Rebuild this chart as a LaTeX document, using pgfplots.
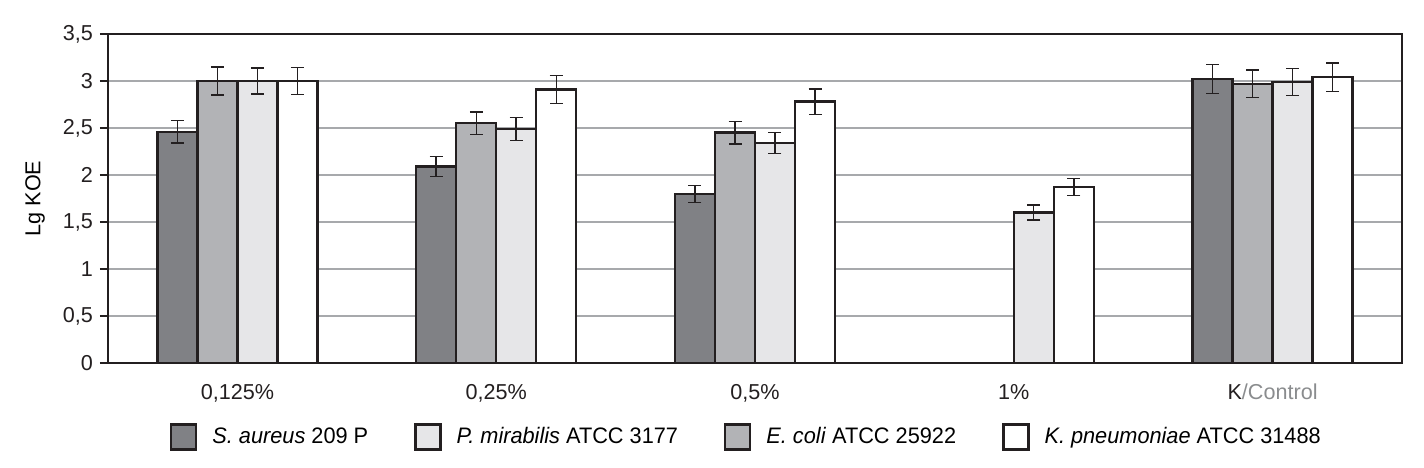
\documentclass[border=0pt]{standalone}
\usepackage{pgfplots}
\pgfplotsset{compat=1.18}
\usepackage{fontspec}
\setmainfont{Liberation Sans}
\newfontfamily\legfont{Liberation Sans}[FakeStretch=0.97]
\definecolor{cdark}{HTML}{808185}
\definecolor{cmed}{HTML}{B2B3B6}
\definecolor{clight}{HTML}{E6E6E8}
\definecolor{barblack}{HTML}{231F20}
\definecolor{gridgray}{HTML}{A7A9AC}
\definecolor{ctrlgray}{HTML}{8A8C8E}
\begin{document}
\begin{tikzpicture}
\begin{axis}[
  name=ax,
  scale only axis,
  width=647pt, height=164.5pt,
  xmin=0, xmax=5, ymin=0, ymax=3.5,
  axis line style={line width=1.4pt, color=barblack},
  ytick={0,0.5,...,3.5},
  yticklabel style={/pgf/number format/.cd, use comma, fixed, assume math mode=true},
  ticklabel style={font=\fontsize{10.8}{13}\selectfont, text=barblack},
  ytick pos=left,
  tick align=outside,
  major tick length=4pt,
  ytick style={line width=1.2pt, color=barblack},
  xtick={0.5,1.5,2.5,3.5,4.5},
  xticklabels={{0,125\%},{0,25\%},{0,5\%},{1\%},{K\textcolor{ctrlgray}{/Control}}},
  xtick style={draw=none},
  xticklabel style={yshift=-3pt},
  ymajorgrids,
  major grid style={color=gridgray, line width=1.1pt},
  ylabel={Lg KOE},
  ylabel style={font=\fontsize{10.8}{13}\selectfont, at={(axis description cs:-0.0564,0.5)}, anchor=center},
  legend columns=4,
  legend cell align=left,
  legend style={draw=none, fill=none, at={(0.043,-0.225)}, anchor=west,
    font=\legfont\fontsize{11.2}{13}\selectfont,
    /tikz/every odd column/.append style={column sep=5.5pt},
    /tikz/every even column/.append style={column sep=21pt}},
  legend image code/.code={\draw[#1] (0pt,-6.25pt) rectangle (12.5pt,6.25pt);},
  every axis plot/.append style={ybar, bar width=0.1546, bar shift=0pt, draw=barblack, line width=1.2pt,
    /pgfplots/error bars/y dir=both, /pgfplots/error bars/y explicit,
    /pgfplots/error bars/error bar style={line width=0.7pt, color=barblack},
    /pgfplots/error bars/error mark options={rotate=90, line width=0.7pt, color=barblack, mark size=3.25pt}},
]
% S. aureus 209 P (dark)
\addplot[fill=cdark] coordinates {
  (0.268,2.46) +- (0,0.12)
  (1.268,2.09) +- (0,0.105)
  (2.268,1.80) +- (0,0.09)
  (4.268,3.02) +- (0,0.155)
};
\addlegendentry{\textit{S. aureus} 209 P}
% P. mirabilis ATCC 3177 (light)
\addplot[fill=clight] coordinates {
  (0.577,3.00) +- (0,0.14)
  (1.577,2.49) +- (0,0.12)
  (2.577,2.34) +- (0,0.11)
  (3.577,1.60) +- (0,0.08)
  (4.577,2.99) +- (0,0.145)
};
\addlegendentry{\textit{P. mirabilis} ATCC 3177}
% E. coli ATCC 25922 (medium)
\addplot[fill=cmed] coordinates {
  (0.423,3.00) +- (0,0.15)
  (1.423,2.55) +- (0,0.12)
  (2.423,2.45) +- (0,0.12)
  (4.423,2.97) +- (0,0.145)
};
\addlegendentry{\textit{E. coli} ATCC 25922}
% K. pneumoniae ATCC 31488 (white)
\addplot[fill=white] coordinates {
  (0.732,3.00) +- (0,0.145)
  (1.732,2.91) +- (0,0.15)
  (2.732,2.78) +- (0,0.135)
  (3.732,1.87) +- (0,0.09)
  (4.732,3.04) +- (0,0.15)
};
\addlegendentry{\textit{K. pneumoniae} ATCC 31488}
\end{axis}
\pgfresetboundingbox
\path ([xshift=-54pt,yshift=-52.5pt]ax.south west) rectangle ([xshift=11pt,yshift=17pt]ax.north east);
\end{tikzpicture}
\end{document}
